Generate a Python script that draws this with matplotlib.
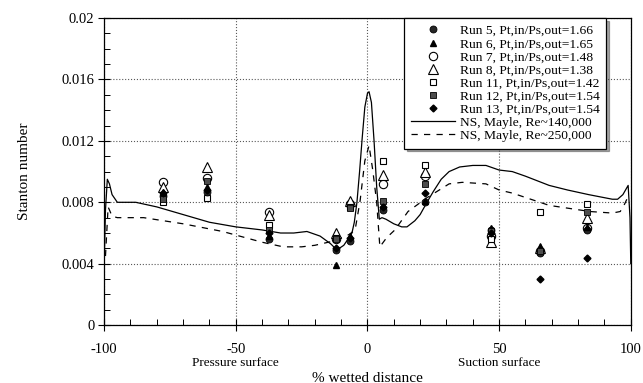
import matplotlib.pyplot as plt
import numpy as np

plt.rcParams['font.family'] = ['Liberation Serif', 'DejaVu Serif']

# measurement locations (% wetted distance)
x_meas = [-77.5, -61, -37.5, -12, -6.5, 6, 22, 47, 65.5, 83.5]

run5 = [0.0084, 0.0087, 0.0056, 0.0049, 0.0055, 0.0075, 0.0080, 0.0062, 0.0047, 0.0062]
run6 = [0.0087, 0.0090, 0.0058, 0.0039, 0.0058, 0.0078, 0.0081, 0.0063, 0.0051, 0.0064]
run7 = [0.0093, 0.0096, 0.0074, 0.0056, 0.0079, 0.0092, 0.0097, 0.0058, 0.0048, 0.0063]
run8 = [0.0090, 0.0103, 0.0072, 0.0060, 0.0081, 0.0098, 0.0100, 0.0054, 0.0050, 0.0070]
run11 = [0.0080, 0.0083, 0.0065, 0.0057, 0.0077, 0.0107, 0.0104, 0.0056, 0.0074, 0.0079]
run12 = [0.0082, 0.0094, 0.0062, 0.0056, 0.0076, 0.0081, 0.0092, 0.0061, 0.0048, 0.0074]
run13 = [0.0086, 0.0088, 0.0060, 0.0050, 0.0057, 0.0077, 0.0086, 0.0060, 0.0030, 0.0044]

# Navier-Stokes predictions (Mayle)
ns140_x = [-100, -99.5, -98.8, -98, -97, -95, -92, -88, -80, -70, -60, -50, -40, -33,
           -28, -23, -18, -14, -11.6, -9, -7, -5.9, -5, -4, -3, -2, -1, 0, 0.6, 1.5,
           2.5, 3.5, 4.5, 5.5, 7, 10, 13, 15, 18, 20, 22.6, 25, 28, 31, 35, 40, 45,
           50, 55, 60, 69, 76, 84, 90, 93, 95, 97, 99, 99.7, 100]
ns140_y = [0.0040, 0.0075, 0.0095, 0.0092, 0.0085, 0.0080, 0.0080, 0.0080, 0.0077,
           0.0072, 0.0067, 0.0064, 0.0062, 0.0060, 0.0060, 0.0061, 0.0058, 0.0053,
           0.0049, 0.0052, 0.0057, 0.0060, 0.0067, 0.0080, 0.0100, 0.0122, 0.0142,
           0.0151, 0.0152, 0.0145, 0.0120, 0.0090, 0.0069, 0.0070, 0.0069, 0.0066,
           0.0064, 0.0064, 0.0068, 0.0072, 0.0080, 0.0087, 0.0095, 0.0100, 0.0103,
           0.0104, 0.0104, 0.0101, 0.0100, 0.0097, 0.0091, 0.0088, 0.0085, 0.0083,
           0.0082, 0.0082, 0.0085, 0.0091, 0.0070, 0.0040]

ns250_x = [-99.5, -98.5, -97, -95, -85, -70, -55, -40, -32, -25, -20, -12.3, -7, -4.7,
           -2.8, -1, 0.6, 2, 3.5, 4.7, 7.3, 10.4, 15.4, 22.6, 31, 36, 45, 50, 55, 69,
           84.5, 93, 96, 97.7, 98.5]
ns250_y = [0.0045, 0.0077, 0.0071, 0.0070, 0.0070, 0.0066, 0.0061, 0.0054, 0.0051,
           0.0051, 0.0052, 0.0055, 0.0059, 0.0062, 0.0081, 0.0107, 0.0117, 0.0101,
           0.0080, 0.0051, 0.0057, 0.0062, 0.0074, 0.0083, 0.0092, 0.0093, 0.0092,
           0.0088, 0.0086, 0.0078, 0.0074, 0.0073, 0.0074, 0.0079, 0.0082]

fig = plt.figure(figsize=(6.43, 3.83), dpi=100)
ax = fig.add_axes([0.162, 0.151, 0.819, 0.802])

ax.plot(x_meas, run5, 'o', ms=5, mfc='0.15', mec='k', mew=0.6, ls='none',
        label='Run 5, Pt,in/Ps,out=1.66', zorder=5)
ax.plot(x_meas, run6, '^', ms=4, mfc='k', mec='k', ls='none',
        label='Run 6, Pt,in/Ps,out=1.65', zorder=5)
ax.plot(x_meas, run7, 'o', ms=6, mfc='white', mec='k', mew=0.8, ls='none',
        label='Run 7, Pt,in/Ps,out=1.48', zorder=4)
ax.plot(x_meas, run8, '^', ms=7, mfc='white', mec='k', mew=0.8, ls='none',
        label='Run 8, Pt,in/Ps,out=1.38', zorder=4)
ax.plot(x_meas, run11, 's', ms=5, mfc='white', mec='k', mew=0.8, ls='none',
        label='Run 11, Pt,in/Ps,out=1.42', zorder=4)
ax.plot(x_meas, run12, 's', ms=5, mfc='0.3', mec='k', mew=0.6, ls='none',
        label='Run 12, Pt,in/Ps,out=1.54', zorder=5)
ax.plot(x_meas, run13, 'D', ms=3.5, mfc='k', mec='k', ls='none',
        label='Run 13, Pt,in/Ps,out=1.54', zorder=5)
ax.plot(ns140_x, ns140_y, '-', color='k', lw=0.9, label='NS, Mayle, Re~140,000')
ax.plot(ns250_x, ns250_y, color='k', lw=0.9, ls=(0, (5, 5)),
        label='NS, Mayle, Re~250,000')

ax.set_xlim(-100, 100)
ax.set_ylim(0, 0.02)
ax.set_xticks([-100, -50, 0, 50, 100])
ax.set_xticklabels(['-100', '-50', '0', '50', '100'])
ax.set_xticks(np.arange(-100, 101, 10), minor=True)
ax.set_yticks([0, 0.004, 0.008, 0.012, 0.016, 0.02])
ax.set_yticklabels(['0', '0.004', '0.008', '0.012', '0.016', '0.02'])
ax.set_yticks(np.arange(0, 0.0201, 0.001), minor=True)
ax.tick_params(axis='both', which='major', direction='inout', length=8, width=0.8,
               labelsize=10.5)
ax.tick_params(axis='x', which='major', pad=9)
ax.tick_params(axis='y', which='major', pad=3)
ax.tick_params(axis='both', which='minor', direction='in', length=4, width=0.7)
ax.grid(True, which='major', ls=':', color='0.35', lw=0.8)
for s in ax.spines.values():
    s.set_linewidth(0.9)

ax.text(-50, -0.0021, 'Pressure surface', ha='center', va='top', fontsize=9.5)
ax.text(50, -0.0021, 'Suction surface', ha='center', va='top', fontsize=9.5)
ax.set_xlabel('% wetted distance', fontsize=11, labelpad=11)
ax.set_ylabel('Stanton number', fontsize=11, labelpad=22)

leg = ax.legend(loc='upper right', bbox_to_anchor=(0.966, 1.022), fontsize=9.7,
                frameon=True, fancybox=False, shadow=True, labelspacing=0.05,
                handlelength=3.3, handletextpad=0.3, borderpad=0.5,
                framealpha=1, edgecolor='k')
leg.get_frame().set_linewidth(0.9)
leg.set_zorder(10)

fig.savefig('out.png', dpi=100)
